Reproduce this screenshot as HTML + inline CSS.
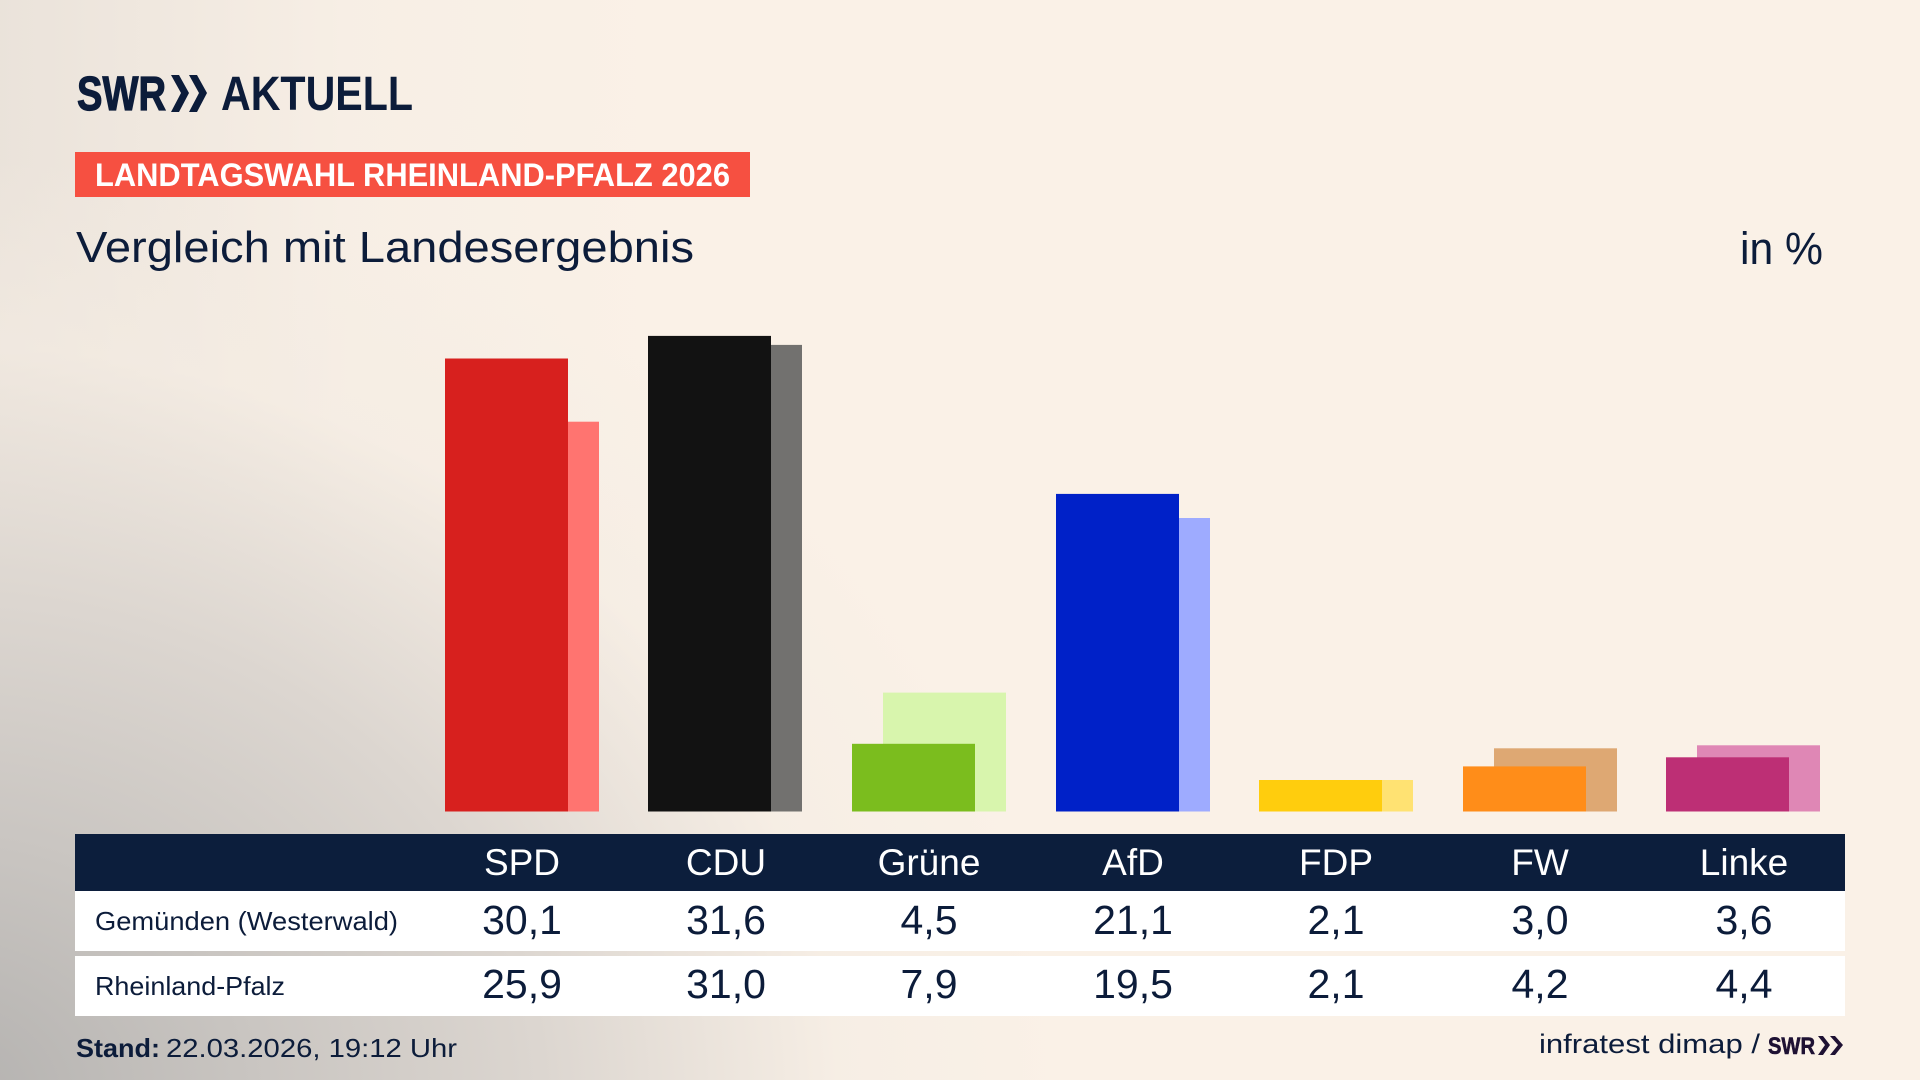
<!DOCTYPE html>
<html>
<head>
<meta charset="utf-8">
<style>
html,body{margin:0;padding:0;}
body{width:1920px;height:1080px;overflow:hidden;}
#bg{position:absolute;left:0;top:0;width:1920px;height:1080px;
background:
radial-gradient(ellipse 1250px 1050px at -3% 102%, #b3b1af 0%, #c9c5c1 25%, #dcd6d0 48%, rgba(244,236,227,0.6) 72%, rgba(250,241,231,0) 90%),
linear-gradient(90deg, rgba(205,200,195,0.35) 0%, rgba(230,224,217,0.15) 18%, rgba(250,241,231,0) 35%),
#faf1e7;}
svg{position:absolute;left:0;top:0;}
text{font-family:"Liberation Sans",sans-serif;}
</style>
</head>
<body>
<div id="bg"></div>
<svg width="1920" height="1080" viewBox="0 0 1920 1080" xmlns="http://www.w3.org/2000/svg">
  <!-- Logo -->
  <text x="77" y="110" font-size="48" font-weight="bold" fill="#0c1c3a" textLength="89" lengthAdjust="spacingAndGlyphs" stroke="#0c1c3a" stroke-width="1.2">SWR</text>
  <polygon points="171,75 179,75 189,93 179,112 171,112 181,93" fill="#0c1c3a"/>
  <polygon points="189,75 197,75 207,93 197,112 189,112 199,93" fill="#0c1c3a"/>
  <text x="221" y="110" font-size="48" font-weight="bold" fill="#0c1c3a" textLength="192" lengthAdjust="spacingAndGlyphs">AKTUELL</text>

  <!-- Banner -->
  <rect x="75" y="152" width="675" height="45" fill="#f65041"/>
  <text x="95" y="186" font-size="32" font-weight="bold" fill="#ffffff" textLength="635" lengthAdjust="spacingAndGlyphs">LANDTAGSWAHL RHEINLAND-PFALZ 2026</text>

  <!-- Subtitle -->
  <text x="76" y="262" font-size="44" fill="#0c1c3a" textLength="618" lengthAdjust="spacingAndGlyphs">Vergleich mit Landesergebnis</text>
  <text x="1740" y="264" font-size="45" fill="#0c1c3a" textLength="83" lengthAdjust="spacingAndGlyphs">in %</text>

  <!-- Bars: secondary (behind) then main -->
  <rect x="476" y="421.7" width="123" height="389.8" fill="#ff7470"/>
  <rect x="445" y="358.5" width="123" height="453" fill="#d7201e"/>
  <rect x="679" y="344.9" width="123" height="466.6" fill="#72716f"/>
  <rect x="648" y="335.9" width="123" height="475.6" fill="#121212"/>
  <rect x="883" y="692.6" width="123" height="118.9" fill="#d8f5ad"/>
  <rect x="852" y="743.8" width="123" height="67.7" fill="#7bbd1e"/>
  <rect x="1087" y="518" width="123" height="293.5" fill="#9eabff"/>
  <rect x="1056" y="493.9" width="123" height="317.6" fill="#0021c8"/>
  <rect x="1290" y="780" width="123" height="31.5" fill="#ffe272"/>
  <rect x="1259" y="780" width="123" height="31.5" fill="#ffcd0d"/>
  <rect x="1494" y="748.3" width="123" height="63.2" fill="#dea873"/>
  <rect x="1463" y="766.4" width="123" height="45.1" fill="#ff8d19"/>
  <rect x="1697" y="745.3" width="123" height="66.2" fill="#df87b5"/>
  <rect x="1666" y="757.3" width="123" height="54.2" fill="#bd2f75"/>

  <!-- Table -->
  <rect x="75" y="834" width="1770" height="57" fill="#0c1e3c"/>
  <rect x="75" y="891" width="1770" height="60" fill="#ffffff"/>
  <rect x="75" y="956" width="1770" height="60" fill="#ffffff"/>

  <g font-size="37" fill="#ffffff" text-anchor="middle">
    <text x="522" y="875">SPD</text>
    <text x="726" y="875">CDU</text>
    <text x="929" y="875">Grüne</text>
    <text x="1133" y="875">AfD</text>
    <text x="1336" y="875">FDP</text>
    <text x="1540" y="875">FW</text>
    <text x="1744" y="875">Linke</text>
  </g>

  <text x="95" y="930" font-size="26" fill="#0c1c3a" textLength="303" lengthAdjust="spacingAndGlyphs">Gemünden (Westerwald)</text>
  <text x="95" y="995" font-size="26" fill="#0c1c3a" textLength="190" lengthAdjust="spacingAndGlyphs">Rheinland-Pfalz</text>

  <g font-size="41" fill="#0c1c3a" text-anchor="middle">
    <text x="522" y="934">30,1</text>
    <text x="726" y="934">31,6</text>
    <text x="929" y="934">4,5</text>
    <text x="1133" y="934">21,1</text>
    <text x="1336" y="934">2,1</text>
    <text x="1540" y="934">3,0</text>
    <text x="1744" y="934">3,6</text>

    <text x="522" y="998">25,9</text>
    <text x="726" y="998">31,0</text>
    <text x="929" y="998">7,9</text>
    <text x="1133" y="998">19,5</text>
    <text x="1336" y="998">2,1</text>
    <text x="1540" y="998">4,2</text>
    <text x="1744" y="998">4,4</text>
  </g>

  <!-- Footer -->
  <text x="76" y="1057" font-size="26" font-weight="bold" fill="#0c1c3a" textLength="84" lengthAdjust="spacingAndGlyphs">Stand:</text>
  <text x="166" y="1057" font-size="26" fill="#0c1c3a" textLength="291" lengthAdjust="spacingAndGlyphs">22.03.2026, 19:12 Uhr</text>

  <text x="1539" y="1053" font-size="27" fill="#0c1c3a" textLength="221" lengthAdjust="spacingAndGlyphs">infratest dimap /</text>
  <text x="1768" y="1054" font-size="24" font-weight="bold" fill="#1e1133" textLength="47" lengthAdjust="spacingAndGlyphs" stroke="#1e1133" stroke-width="0.6">SWR</text>
  <polygon points="1818,1036 1823,1036 1830,1045 1823,1055 1818,1055 1825,1045" fill="#1e1133"/>
  <polygon points="1830,1036 1835,1036 1843,1045 1835,1055 1830,1055 1838,1045" fill="#1e1133"/>
</svg>
</body>
</html>
